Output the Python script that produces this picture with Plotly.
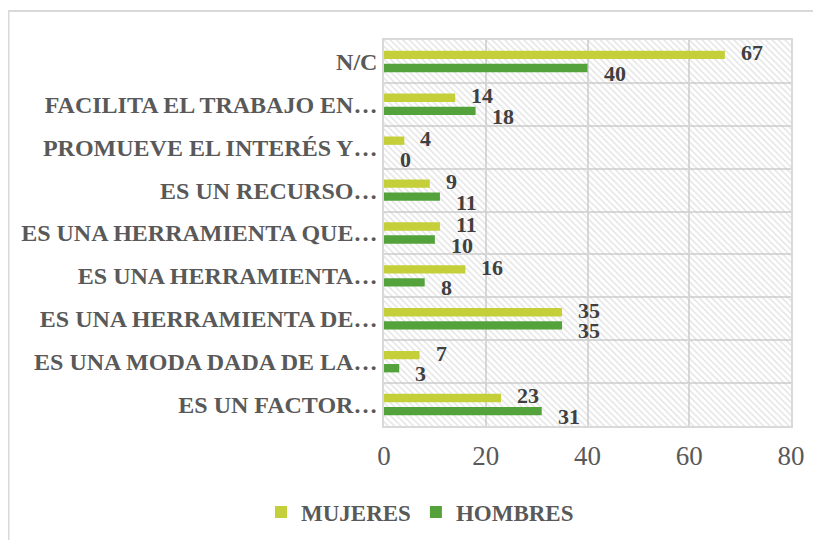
import plotly.graph_objects as go

categories = [
    "N/C",
    "FACILITA EL TRABAJO EN…",
    "PROMUEVE EL INTERÉS Y…",
    "ES UN RECURSO…",
    "ES UNA HERRAMIENTA QUE…",
    "ES UNA HERRAMIENTA…",
    "ES UNA HERRAMIENTA DE…",
    "ES UNA MODA DADA DE LA…",
    "ES UN FACTOR…",
]
mujeres = [67, 14, 4, 9, 11, 16, 35, 7, 23]
hombres = [40, 18, 0, 11, 10, 8, 35, 3, 31]
x_ticks = [0, 20, 40, 60, 80]
X_MAX = 80

# page is drawn with an 8px body margin; compensate so the chart fills 821x540
PAGE_OFF = 8
W, H = 821 - PAGE_OFF, 540 - PAGE_OFF
ML, MT = 384 - PAGE_OFF, 40 - PAGE_OFF
MR, MB = 30, 114
PW, PH = W - ML - MR, H - MT - MB

C_MUJ = "#c4cf3a"
C_HOM = "#54a23b"
GRID = "#d9d9d9"
SERIF = "Liberation Serif, Times New Roman, serif"

pos = list(range(len(categories)))
BAR_W = 0.195

fig = go.Figure()

# hatched plot-area background
fig.add_trace(go.Bar(
    y=pos, x=[X_MAX] * len(pos), orientation="h",
    width=1, offset=-0.5,
    marker=dict(color="rgba(0,0,0,0)", line=dict(width=0),
                pattern=dict(shape="\\", fgcolor="#c4c4c4", bgcolor="rgba(0,0,0,0)",
                             size=4.5, solidity=0.3)),
    showlegend=False, hoverinfo="skip",
))

fig.add_trace(go.Bar(
    name="MUJERES", y=pos, x=mujeres, orientation="h",
    width=BAR_W, offset=-0.25,
    marker=dict(color=C_MUJ, line=dict(width=0)),
))
fig.add_trace(go.Bar(
    name="HOMBRES", y=pos, x=hombres, orientation="h",
    width=BAR_W, offset=0.055,
    marker=dict(color=C_HOM, line=dict(width=0)),
))

label_font = dict(family=SERIF, size=22, color="#404040", weight="bold")
annotations = []
for p, v in zip(pos, mujeres):
    annotations.append(dict(x=v, y=p - 0.2, xref="x", yref="y", text=str(v),
                            showarrow=False, xanchor="left", yanchor="middle",
                            xshift=14, font=label_font))
for p, v in zip(pos, hombres):
    annotations.append(dict(x=v, y=p + 0.28, xref="x", yref="y", text=str(v),
                            showarrow=False, xanchor="left", yanchor="middle",
                            xshift=14, font=label_font))


def px_x(p):
    return (p - PAGE_OFF - ML) / PW


def px_y(p):
    return (MT + PH - (p - PAGE_OFF)) / PH


fig.add_shape(type="rect", xref="paper", yref="paper",
              x0=px_x(8.5), x1=px_x(900), y0=px_y(11), y1=px_y(600),
              line=dict(color=GRID, width=2), fillcolor="rgba(0,0,0,0)", layer="below")

fig.update_layout(
    width=W, height=H,
    margin=dict(l=ML, r=MR, t=MT, b=MB, autoexpand=False),
    paper_bgcolor="white", plot_bgcolor="white",
    barmode="overlay",
    showlegend=True,
    annotations=annotations,
    legend=dict(orientation="h", x=px_x(420), xanchor="center",
                y=px_y(512), yanchor="middle",
                font=dict(family=SERIF, size=23, color="#595959", weight="bold"),
                traceorder="normal"),
    xaxis=dict(range=[0, X_MAX], tickvals=x_ticks, showgrid=True, gridcolor=GRID, gridwidth=1.5,
               zeroline=False, showline=True, linecolor=GRID, linewidth=1.5, mirror=True,
               ticklabelstandoff=5,
               tickfont=dict(family=SERIF, size=27, color="#595959"), ticks=""),
    yaxis=dict(range=[len(pos) - 0.5, -0.5], tickvals=pos, ticktext=categories,
               showgrid=False, zeroline=False,
               minor=dict(tickmode="linear", tick0=0.5, dtick=1, showgrid=True,
                          gridcolor=GRID, gridwidth=1.5, ticks=""),
               showline=True, linecolor=GRID, linewidth=1.5, mirror=True,
               ticks="", automargin=False, ticklabelstandoff=0,
               tickfont=dict(family=SERIF, size=24, color="#595959", weight="bold")),
)

fig.write_html("out.html")
